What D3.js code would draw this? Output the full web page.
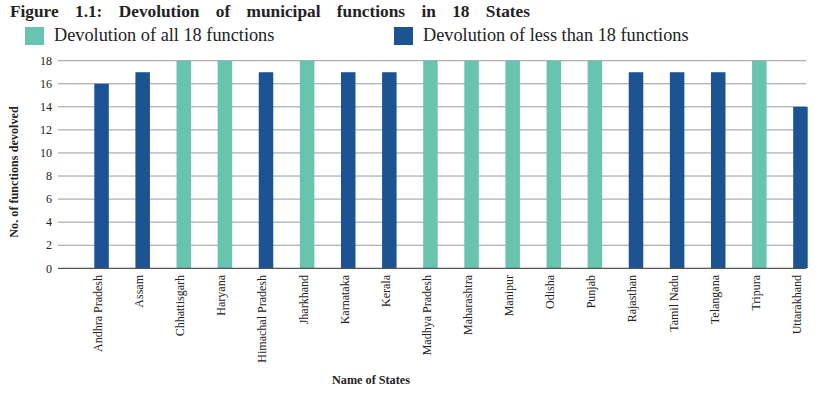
<!DOCTYPE html>
<html><head><meta charset="utf-8">
<script src="https://cdn.jsdelivr.net/npm/d3@7"></script>
<style>body{margin:0;background:#fff}svg{display:block}</style>
</head><body>
<svg id="c" width="824" height="393"></svg>
<script>
const states = ["Andhra Pradesh","Assam","Chhattisgarh","Haryana","Himachal Pradesh","Jharkhand","Karnataka","Kerala","Madhya Pradesh","Maharashtra","Manipur","Odisha","Punjab","Rajasthan","Tamil Nadu","Telangana","Tripura","Uttarakhand"];
const functionsDevolved = [16,17,18,18,17,18,17,17,18,18,18,18,18,17,17,17,18,14];
const yTicks = [0,2,4,6,8,10,12,14,16,18];
const seriesNames = ["Devolution of all 18 functions","Devolution of less than 18 functions"];
const titleText = "Figure 1.1: Devolution of municipal functions in 18 States";
const yTitle = "No. of functions devolved";
const xTitle = "Name of States";

const colors = {all:"#68c4ae", less:"#1b5393"};
const serif = "'Liberation Serif','Times New Roman',serif";
const svg = d3.select("#c");

const gridLeft = 58, gridRight = 806;
const x = d3.scaleBand().domain(states).range([81, 821]);
const y = d3.scaleLinear().domain([0,18]).range([268.3, 60.7]);
const barW = 14.5;

// grid
svg.append("g").selectAll("line").data(yTicks.filter(d=>d>0)).join("line")
  .attr("x1",gridLeft).attr("x2",gridRight)
  .attr("y1",d=>y(d)).attr("y2",d=>y(d))
  .attr("stroke","#9a9a9a").attr("stroke-width",1);

// y tick labels
svg.append("g").selectAll("text").data(yTicks).join("text")
  .attr("x",52).attr("y",d=>y(d)).attr("dy","0.35em")
  .attr("text-anchor","end").attr("font-family",serif).attr("font-size",12).attr("fill","#222")
  .text(d=>d);

// bars
svg.append("g").selectAll("rect").data(states).join("rect")
  .attr("x",(d)=>x(d)+x.bandwidth()/2-barW/2)
  .attr("width",barW)
  .attr("y",(d,i)=>y(functionsDevolved[i]))
  .attr("height",(d,i)=>y(0)-y(functionsDevolved[i]))
  .attr("fill",(d,i)=>functionsDevolved[i]===18?colors.all:colors.less);

// baseline
svg.append("line").attr("x1",gridLeft).attr("x2",gridRight).attr("y1",y(0)).attr("y2",y(0))
  .attr("stroke","#555").attr("stroke-width",1.2);

// x labels
svg.append("g").selectAll("text").data(states).join("text")
  .attr("transform",d=>`translate(${x(d)+x.bandwidth()/2+1},275) rotate(-90)`)
  .attr("text-anchor","end").attr("dy","-0.05em")
  .attr("font-family",serif).attr("font-size",12).attr("fill","#222")
  .text(d=>d);

// axis titles
svg.append("text").attr("transform","translate(18,172) rotate(-90)")
  .attr("text-anchor","middle").attr("font-family",serif).attr("font-weight","bold")
  .attr("font-size",12.2).attr("fill","#222").text(yTitle);
svg.append("text").attr("x",371).attr("y",384)
  .attr("text-anchor","middle").attr("font-family",serif).attr("font-weight","bold")
  .attr("font-size",12.2).attr("fill","#222").text(xTitle);

// legend
const leg = [{x:25,c:colors.all,t:seriesNames[0],tx:54},{x:394,c:colors.less,t:seriesNames[1],tx:423}];
const lg = svg.append("g").selectAll("g").data(leg).join("g");
lg.append("rect").attr("x",d=>d.x).attr("y",27).attr("width",19).attr("height",18).attr("fill",d=>d.c);
lg.append("text").attr("x",d=>d.tx).attr("y",40.5).attr("font-family",serif).attr("font-size",18.3)
  .attr("fill","#222").text(d=>d.t);

// title, justified via word-spacing
const title = svg.append("text").attr("x",10).attr("y",16.5).attr("font-family",serif)
  .attr("font-weight","bold").attr("font-size",17.3).attr("fill","#222").text(titleText);
const w0 = title.node().getComputedTextLength();
const nSpaces = titleText.split(" ").length-1;
title.attr("word-spacing", Math.max(0,(520-w0)/nSpaces));
</script>
</body></html>
